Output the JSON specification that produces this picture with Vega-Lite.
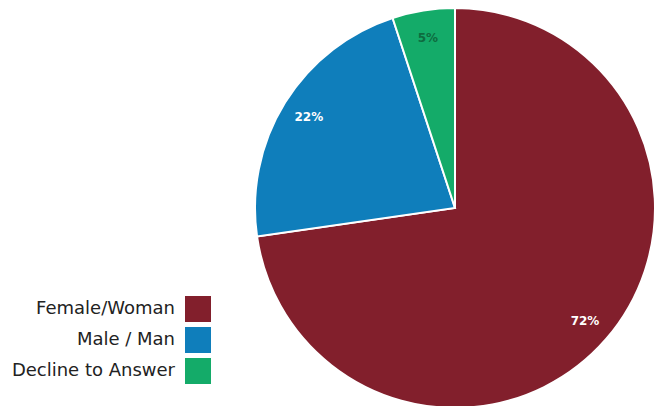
{
  "$schema": "https://vega.github.io/schema/vega-lite/v6.json",
  "width": 400,
  "height": 400,
  "autosize": "none",
  "padding": {"left": 255, "top": 8, "right": 0, "bottom": 0},
  "background": "white",
  "data": {"values": [
    {"category": "Female/Woman", "value": 72, "label": "72%"},
    {"category": "Male / Man", "value": 22, "label": "22%"},
    {"category": "Decline to Answer", "value": 5, "label": "5%"}
  ]},
  "encoding": {
    "theta": {"field": "value", "type": "quantitative", "stack": true},
    "order": {"field": "value", "type": "quantitative", "sort": "descending"}
  },
  "layer": [
    {
      "mark": {"type": "arc", "stroke": "white", "strokeWidth": 2},
      "encoding": {
        "color": {
          "field": "category", "type": "nominal",
          "scale": {"domain": ["Female/Woman", "Male / Man", "Decline to Answer"], "range": ["#821f2c", "#0f7ebb", "#14ab69"]},
          "legend": {
            "title": null,
            "orient": "none",
            "legendX": -70,
            "legendY": 288,
            "symbolType": "square",
            "symbolSize": 676,
            "symbolStrokeWidth": 0,
            "symbolOpacity": 1,
            "labelAlign": "right",
            "labelOffset": -36,
            "labelFont": "DejaVu Sans",
            "labelFontSize": 18,
            "labelColor": "#222222",
            "labelLimit": 300,
            "rowPadding": 5,
            "padding": 0
          }
        }
      }
    },
    {
      "mark": {"type": "text", "radius": 172, "font": "DejaVu Sans", "fontWeight": "bold", "fontSize": 12},
      "encoding": {
        "text": {"field": "label"},
        "color": {"condition": {"test": "datum.value < 10", "value": "#0e6b3f"}, "value": "white"}
      }
    }
  ]
}
